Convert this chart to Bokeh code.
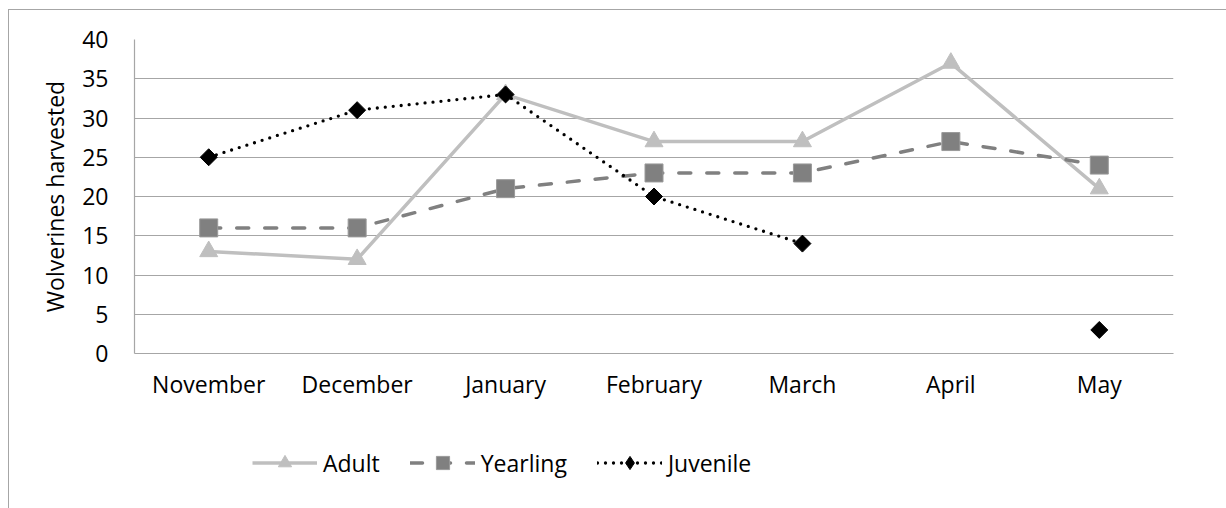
import numpy as np
from bokeh.plotting import figure
from bokeh.layouts import column
from bokeh.models import Legend, LegendItem, FixedTicker, Range1d, InlineStyleSheet
from bokeh.embed import file_html
from bokeh.resources import INLINE

months = ["November", "December", "January", "February", "March", "April", "May"]
adult = [13, 12, 33, 27, 27, 37, 21]
yearling = [16, 16, 21, 23, 23, 27, 24]
juvenile = [25, 31, 33, 20, 14, np.nan, 3]
y_ticks = [0, 5, 10, 15, 20, 25, 30, 35, 40]

FONT = "Open Sans"
FS = "23px"
GRID = "#a6a6a6"

ADULT = dict(line_color="#bfbfbf", line_width=3.5, line_join="round")
ADULT_M = dict(marker="triangle", size=18, fill_color="#bfbfbf", line_color="#bfbfbf")
YEAR = dict(line_color="#808080", line_width=3.5, line_dash="12 16", line_cap="round", line_join="round")
YEAR_M = dict(marker="square", size=18, fill_color="#808080", line_color="#9a9a9a")
JUV = dict(line_color="black", line_width=3.3, line_dash="0 8", line_cap="round")
JUV_M = dict(marker="square", angle=np.pi / 4, size=12, fill_color="black", line_color="black")
# legend keys ignore marker angle, so the juvenile key uses the diamond marker
JUV_KEY = dict(marker="diamond", size=12, fill_color="black", line_color="black")

# thin border around the chart area, drawn by the page rather than the canvas
border_css = InlineStyleSheet(css="""
:host { position: relative; }
:host::after {
  content: ""; position: absolute; left: 8px; top: 9px; right: -20px; bottom: -20px;
  border: 1px solid #a6a6a6; pointer-events: none; z-index: 10;
}
""")

p = figure(
    width=1226, height=420, x_range=months, y_range=Range1d(0, 40),
    output_backend="svg", toolbar_location=None,
    min_border_left=134, min_border_right=53, min_border_top=39, min_border_bottom=67,
)
p.outline_line_color = None
p.background_fill_color = "white"
p.border_fill_color = "white"

p.xgrid.grid_line_color = None
p.ygrid.grid_line_color = GRID
p.ygrid.grid_line_width = 1.2
p.yaxis.ticker = FixedTicker(ticks=y_ticks)

for ax in (p.xaxis[0], p.yaxis[0]):
    ax.axis_line_color = GRID
    ax.axis_line_width = 1.2
    ax.major_tick_line_color = None
    ax.minor_tick_line_color = None
    ax.major_label_text_font = FONT
    ax.major_label_text_font_size = FS
    ax.major_label_text_color = "black"

p.yaxis.major_label_standoff = 20
p.xaxis.major_label_standoff = 8
p.yaxis.axis_label = "Wolverines harvested"
p.yaxis.axis_label_text_font = FONT
p.yaxis.axis_label_text_font_size = FS
p.yaxis.axis_label_text_font_style = "normal"
p.yaxis.axis_label_text_color = "black"
p.yaxis.axis_label_standoff = 8

# Adult: light gray solid line with triangles
p.line(months, adult, **ADULT)
p.scatter(months, adult, **ADULT_M)

# Yearling: mid gray dashed line with squares
p.line(months, yearling, **YEAR)
p.scatter(months, yearling, **YEAR_M)

# Juvenile: black dotted line with diamonds (gap in April)
p.line(months, juvenile, **JUV)
jx = [m for m, v in zip(months, juvenile) if not np.isnan(v)]
jv = [v for v in juvenile if not np.isnan(v)]
p.scatter(jx, jv, **JUV_M)

# legend strip below the chart; its key renderers sit outside the visible range
lg = figure(
    width=1226, height=88, x_range=Range1d(0, 1), y_range=Range1d(0, 1),
    output_backend="svg", toolbar_location=None,
    min_border=0, min_border_left=0, min_border_right=0, min_border_top=0, min_border_bottom=0,
)
lg.axis.visible = False
lg.grid.visible = False
lg.outline_line_color = None
lg.background_fill_color = "white"
lg.border_fill_color = "white"

keys = []
for lab, ls, ms in (("Adult", ADULT, ADULT_M), ("Yearling", YEAR, YEAR_M), ("Juvenile", JUV, JUV_KEY)):
    r1 = lg.line([-10, -9], [-10, -10], **ls)
    r2 = lg.scatter([-10], [-10], **ms)
    keys.append(LegendItem(label=lab, renderers=[r1, r2]))

legend = Legend(
    items=keys, orientation="horizontal", location=(118, 29),
    glyph_width=65, glyph_height=33, label_standoff=6, spacing=30,
    padding=0, margin=0, border_line_color=None, background_fill_alpha=0,
    label_text_font=FONT, label_text_font_size=FS, label_text_color="black",
)
lg.add_layout(legend, "center")

page = column(p, lg, spacing=0, stylesheets=[border_css])
open("out.html", "w").write(file_html(page, INLINE))
